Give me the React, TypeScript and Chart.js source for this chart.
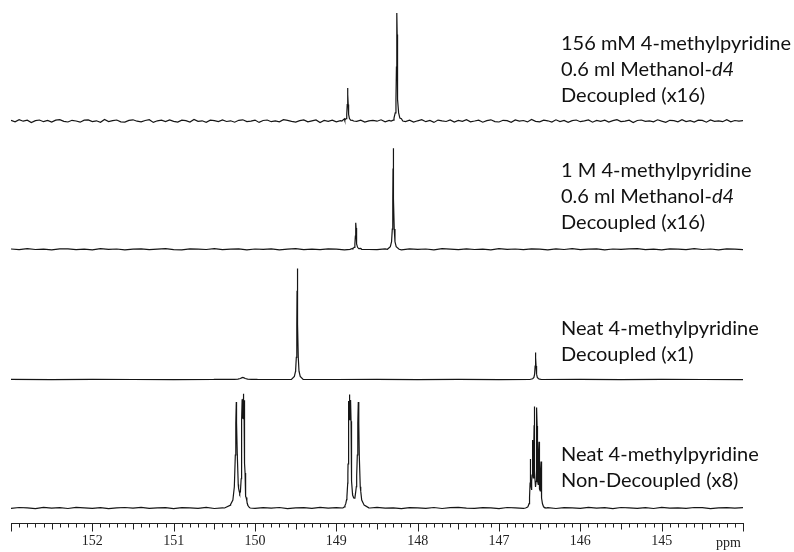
import React, { useEffect, useRef } from "react";
import { Chart, registerables } from "chart.js";

Chart.register(...registerables);

// ---------- axis ----------
const PPM_LEFT = 153;
const PPM_RIGHT = 144;
const TICK_LABELS = [152, 151, 150, 149, 148, 147, 146, 145];
const AXIS_UNIT = "ppm";

// ---------- peak line shape (|offset| in half-widths -> fraction of height) ----------
const SHAPE_U = [0, 0.5, 1, 2, 3.5, 6, 12];
const SHAPE_F = [1, 0.8, 0.5, 0.2, 0.075, 0.027, 0];

// ---------- trace 1: 156 mM, Methanol-d4, decoupled x16 ----------
const T1_OFFSET = 402;
const T1_PEAK_PPM = [148.86, 148.255];
const T1_PEAK_HEIGHT = [33, 108];
const T1_PEAK_WIDTH = [0.006, 0.006];
const T1_NOISE = [
  0.6, -0.9, 1.3, -0.2, 0.8, -1.5, 0.3, 1.0, -0.7, 0.5, -1.1, 0.9, 1.4, -0.3, -1.0, 0.7, 0.0, -1.2, 0.8, 1.1,
  -0.6, 0.2, -1.3, 1.5, -0.5, 0.4, 1.0, -0.8, -1.1, 0.6, 1.2, -0.2, -0.9, 0.5, 1.3, -1.4, 0.2, 0.8, -0.5, 1.1,
  -0.3, -1.1, 0.9, 0.3, -1.0, 1.5, -0.4, 0.2, -1.3, 0.8, 0.4, -0.6, 1.1, -0.5, 0.2, -1.2, 0.7, 1.2, -0.6, -0.1,
  0.9, -1.4, 0.5, 1.0, -0.7, 0.1, -0.8, 1.3, 0.6, -0.4, -1.1, 0.4, 1.1, -0.9, 0.2, 1.0, -1.5, 0.5, -0.3, 0.9,
  -0.8, 0.4, 1.4, -1.2, 0.3, -0.4, 0.9, -1.0, 0.1, 0.7, -0.2, 1.2, -0.9, 0.6, -1.3, 0.3, 1.0, -0.6, 0.8, -1.1,
  0.2, 1.3, -0.7, 0.5, -1.4, 0.9, 0.1, -0.5, 1.1, -1.0, 0.6, -0.3, 1.4, -0.8, 0.0, 0.9, -1.2, 0.4, 1.2, -0.6,
  -1.0, 0.7, 0.3, -1.3, 1.0, -0.2, 0.5, -0.9, 1.5, -0.4, -0.8, 0.8, 0.2, -1.1, 1.2, -0.5, 0.6, -1.4, 0.3, 1.0,
  -0.7, 0.1, 1.1, -1.2, 0.6, -0.3, 0.9, -1.0, 0.4, 1.3, -0.6, -0.2, 0.8, -1.5, 0.5, 1.0, -0.4, 0.2, -0.9, 1.2,
  -0.1, -1.3, 0.7, 0.4, -0.8, 1.4, -0.5, 0.3, -1.0, 0.8, 0.6, -1.2, 1.1, -0.3, 0.2, -0.7, 1.3, -0.9, 0.5, -0.2,
  0.4,
];

// ---------- trace 2: 1 M, Methanol-d4, decoupled x16 ----------
const T2_OFFSET = 273.7;
const T2_PEAK_PPM = [148.76, 148.3];
const T2_PEAK_HEIGHT = [26.6, 101];
const T2_PEAK_WIDTH = [0.006, 0.006];
const T2_NOISE = [
  0.3, -0.4, 0.6, -0.2, 0.1, -0.6, 0.4, 0.5, -0.3, 0.2, -0.5, 0.7, -0.1, 0.3, -0.6, 0.2, 0.5, -0.4, 0.1, 0.6,
  -0.3, -0.5, 0.4, 0.2, -0.2, 0.6, -0.4, 0.1, 0.5, -0.6, 0.3, -0.1, 0.4, -0.5, 0.2, 0.7, -0.3, 0.1, -0.4, 0.5,
  0.2, -0.6, 0.3, 0.6, -0.2, -0.4, 0.5, 0.1, -0.5, 0.4, -0.1, 0.3, -0.6, 0.6, 0.2, -0.3, 0.4, -0.2, 0.1, -0.5,
  0.7, -0.1, 0.3, -0.4, 0.5, 0.2, -0.6, 0.4, -0.2, 0.6, -0.3, 0.1, 0.5, -0.5, 0.3, -0.1, 0.4, 0.6, -0.4, 0.2,
  -0.6, 0.5, 0.1, -0.3, 0.7, -0.2, 0.3, -0.5, 0.4, 0.1, -0.3,
];

// ---------- trace 3: neat, decoupled x1 ----------
const T3_OFFSET = 143.5;
const T3_PEAK_PPM = [150.15, 149.48, 146.55];
const T3_PEAK_HEIGHT = [2, 111, 27];
const T3_PEAK_WIDTH = [0.03, 0.006, 0.006];
const T3_NOISE = [0.1, -0.1, 0.2, 0, -0.2, 0.1, 0.1, -0.1, 0, 0.2, -0.1, 0.1, -0.2, 0, 0.1, -0.1, 0.2, 0, -0.1];

// ---------- trace 4: neat, non-decoupled x8 ----------
const T4_OFFSET = 15;
const T4_PEAK_PPM = [
  150.23, 150.158, 150.145, 150.132, 148.848, 148.835, 148.822, 148.73,
  146.613, 146.588, 146.566, 146.534, 146.508, 146.483,
];
const T4_PEAK_HEIGHT = [106, 86, 80, 86, 86, 80, 86, 106, 45, 60, 95, 95, 60, 43];
const T4_PEAK_WIDTH = [
  0.012, 0.006, 0.006, 0.006, 0.006, 0.006, 0.006, 0.012,
  0.005, 0.005, 0.005, 0.005, 0.005, 0.005,
];
const T4_NOISE = [
  -0.4, 0.5, 0.2, -0.6, 0.7, -0.1, 0.3, -0.5, 0.6, 0.1, -0.3, 0.4, -0.7, 0.2, 0.5, -0.2, 0.6, -0.4, 0.1, 0.3,
  -0.6, 0.4, 0.2, -0.3, 0.7, -0.5, 0.1, 0.4, -0.2, 0.6, -0.4, 0.3, -0.1, 0.5, -0.6, 0.2, 0.4, -0.3, 0.6, -0.1,
  0.3, -0.5, 0.5, 0.1, -0.4, 0.6, -0.2, 0.2, -0.6, 0.4, 0.1, -0.3, 0.5, -0.5, 0.3, 0.6, -0.2, -0.4, 0.4, 0.1,
  -0.6, 0.5, 0.2, -0.3, 0.6, -0.1, 0.4, -0.5, 0.3, 0.1, -0.4, 0.7, -0.2, 0.3, -0.6, 0.5, 0.2, -0.3, 0.4, -0.5,
  0.6, -0.1, 0.2, -0.4, 0.5, 0.3, -0.6, 0.1, 0.4, -0.2, 0.3,
];

// ---------- annotation text (segments: [text, italic]) ----------
type Seg = [string, boolean];
const LABEL_1: Seg[][] = [
  [["156 mM 4-methylpyridine", false]],
  [["0.6 ml Methanol-", false], ["d4", true]],
  [["Decoupled (x16)", false]],
];
const LABEL_2: Seg[][] = [
  [["1 M 4-methylpyridine", false]],
  [["0.6 ml Methanol-", false], ["d4", true]],
  [["Decoupled (x16)", false]],
];
const LABEL_3: Seg[][] = [
  [["Neat 4-methylpyridine", false]],
  [["Decoupled (x1)", false]],
];
const LABEL_4: Seg[][] = [
  [["Neat 4-methylpyridine", false]],
  [["Non-Decoupled (x8)", false]],
];

function shapeAt(u: number): number {
  const a = Math.abs(u);
  for (let i = 1; i < SHAPE_U.length; i++) {
    if (a <= SHAPE_U[i]) {
      const t = (a - SHAPE_U[i - 1]) / (SHAPE_U[i] - SHAPE_U[i - 1]);
      return SHAPE_F[i - 1] + t * (SHAPE_F[i] - SHAPE_F[i - 1]);
    }
  }
  return 0;
}

function buildTrace(offset: number, noise: number[], ppm: number[], height: number[], width: number[]) {
  const xs: number[] = [];
  const base: number[] = [];
  const step = (PPM_LEFT - PPM_RIGHT) / (noise.length - 1);
  noise.forEach((v, i) => {
    xs.push(PPM_LEFT - i * step);
    base.push(v);
  });
  ppm.forEach((p, k) => {
    SHAPE_U.forEach((u) => {
      xs.push(p - u * width[k]);
      base.push(0);
      if (u > 0) {
        xs.push(p + u * width[k]);
        base.push(0);
      }
    });
  });
  const pts = xs.map((x, i) => {
    let y = offset + base[i];
    ppm.forEach((p, k) => {
      y += height[k] * shapeAt((x - p) / width[k]);
    });
    return { x, y };
  });
  pts.sort((a, b) => b.x - a.x);
  return pts;
}

const axisPlugin = {
  id: "nmrAxis",
  afterDraw(chart: any) {
    const { ctx, chartArea, scales } = chart;
    const xs = scales.x;
    const y0 = Math.round(chartArea.bottom) + 0.5;
    ctx.save();
    ctx.strokeStyle = "#222";
    ctx.lineWidth = 1;
    ctx.beginPath();
    ctx.moveTo(Math.round(chartArea.left), y0);
    ctx.lineTo(Math.round(chartArea.right) + 1, y0);
    for (let t = PPM_RIGHT * 10; t <= PPM_LEFT * 10; t++) {
      const x = Math.round(xs.getPixelForValue(t / 10)) + 0.5;
      const len = t % 10 === 0 ? 8 : t % 5 === 0 ? 6 : 4;
      ctx.moveTo(x, y0);
      ctx.lineTo(x, y0 + len);
    }
    ctx.stroke();
    ctx.fillStyle = "#222";
    ctx.font = "14px 'Liberation Serif', serif";
    ctx.textAlign = "right";
    ctx.textBaseline = "alphabetic";
    ctx.fillText(AXIS_UNIT, Math.round(chartArea.right) - 2, y0 + 23);
    ctx.restore();
  },
};

function Label({ lines, top }: { lines: Seg[][]; top: number }) {
  return (
    <div
      style={{
        position: "absolute",
        left: 561,
        top,
        fontFamily: "Lato, 'Open Sans', sans-serif",
        fontSize: 20,
        lineHeight: "26px",
        color: "#111",
        whiteSpace: "nowrap",
      }}
    >
      {lines.map((segs, i) => (
        <div key={i}>
          {segs.map(([t, it], j) => (it ? <i key={j}>{t}</i> : <span key={j}>{t}</span>))}
        </div>
      ))}
    </div>
  );
}

export default function App() {
  const ref = useRef<HTMLCanvasElement | null>(null);

  useEffect(() => {
    if (!ref.current) return;
    const traces = [
      buildTrace(T1_OFFSET, T1_NOISE, T1_PEAK_PPM, T1_PEAK_HEIGHT, T1_PEAK_WIDTH),
      buildTrace(T2_OFFSET, T2_NOISE, T2_PEAK_PPM, T2_PEAK_HEIGHT, T2_PEAK_WIDTH),
      buildTrace(T3_OFFSET, T3_NOISE, T3_PEAK_PPM, T3_PEAK_HEIGHT, T3_PEAK_WIDTH),
      buildTrace(T4_OFFSET, T4_NOISE, T4_PEAK_PPM, T4_PEAK_HEIGHT, T4_PEAK_WIDTH),
    ];
    const chart = new Chart(ref.current, {
      type: "line",
      data: {
        datasets: traces.map((d) => ({
          data: d,
          borderColor: "#151515",
          borderWidth: 1.2,
          pointRadius: 0,
          tension: 0,
          fill: false,
        })),
      },
      options: {
        animation: false,
        responsive: false,
        maintainAspectRatio: false,
        layout: { padding: { left: 11, right: 51, top: 0, bottom: 0 } },
        plugins: { legend: { display: false }, tooltip: { enabled: false } },
        scales: {
          x: {
            type: "linear",
            reverse: true,
            min: PPM_RIGHT,
            max: PPM_LEFT,
            grid: { display: false },
            border: { display: false },
            afterBuildTicks: (s: any) => {
              s.ticks = TICK_LABELS.map((v) => ({ value: v }));
            },
            afterFit: (s: any) => {
              s.height = 29;
            },
            ticks: {
              padding: 2,
              color: "#222",
              autoSkip: false,
              maxRotation: 0,
              font: { family: "'Liberation Serif', serif", size: 14 },
              callback: (v: any) => String(v),
            },
          },
          y: { display: false, min: 0, max: 523 },
        },
      },
      plugins: [axisPlugin],
    } as any);
    return () => chart.destroy();
  }, []);

  return (
    <div style={{ position: "absolute", left: 0, top: 0, width: 794, height: 552, background: "#fff" }}>
      <canvas ref={ref} width={794} height={552} style={{ display: "block" }} />
      <Label lines={LABEL_1} top={29} />
      <Label lines={LABEL_2} top={156} />
      <Label lines={LABEL_3} top={314} />
      <Label lines={LABEL_4} top={440} />
    </div>
  );
}
